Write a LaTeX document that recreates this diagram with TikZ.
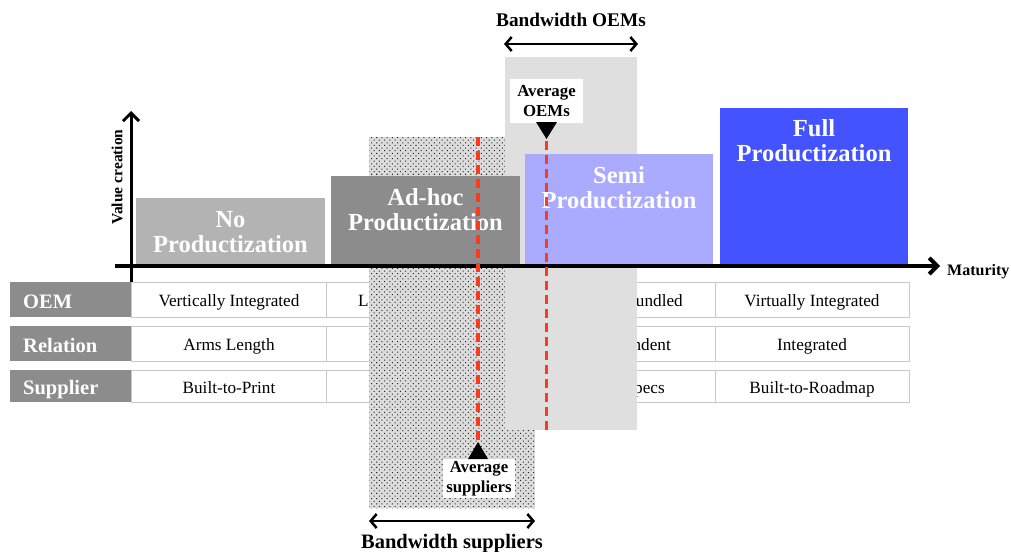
\documentclass[tikz,border=0pt]{standalone}
\usepackage{fontspec}
\setmainfont{Liberation Serif}
\usetikzlibrary{arrows.meta,patterns.meta}

\definecolor{nogrey}{HTML}{B3B3B3}
\definecolor{adhocgrey}{HTML}{8C8C8C}
\definecolor{semiblue}{HTML}{AAAAFF}
\definecolor{fullblue}{HTML}{4353FF}
\definecolor{labelgrey}{HTML}{8C8C8C}
\definecolor{bandgrey}{HTML}{DFDFDF}
\definecolor{dotgrey}{HTML}{DCDCDC}
\definecolor{avgred}{HTML}{FF3A1C}
\definecolor{cellline}{HTML}{C8C8C8}

\begin{document}
\begin{tikzpicture}[x=1pt,y=-1pt,
  stagebox/.style={rectangle,inner sep=0pt,outer sep=0pt,anchor=north west},
  stagetitle/.style={anchor=base,inner sep=0pt,align=center,text=white,
    font=\fontsize{24.5}{25}\selectfont\bfseries},
  cellbox/.style={rectangle,draw=cellline,line width=1.4pt,fill=white,
    inner sep=0pt,anchor=north west,minimum width=194.5pt},
  labelbox/.style={rectangle,fill=labelgrey,inner sep=0pt,anchor=north west,
    minimum width=121pt},
  celltext/.style={inner sep=0pt,font=\fontsize{17.2}{19}\selectfont},
  labeltext/.style={inner sep=0pt,anchor=base west,text=white,
    font=\fontsize{20.5}{22}\selectfont\bfseries},
  axisline/.style={line width=#1,-{Straight Barb[length=8pt,width=16pt]}},
  bwarrow/.style={line width=2.5pt,
    {Straight Barb[length=6pt,width=14pt]}-{Straight Barb[length=6pt,width=14pt]}},
  bwtext/.style={inner sep=0pt,anchor=base,font=\bfseries},
  avgdash/.style={avgred,line width=3.2pt,dash pattern=on 9pt off 5pt},
  avgbox/.style={rectangle,fill=white,inner sep=0pt,align=center,
    font=\fontsize{16.8}{19.5}\selectfont\bfseries},
  axistext/.style={inner sep=0pt,font=\bfseries}
]
\useasboundingbox (0,0) rectangle (1011,551);

% ---- relationship table ----
\foreach \name/\top/\ht in {oem/282/35, rel/326/35, sup/370/32}{
  \node[labelbox,minimum height=\ht pt] (lab-\name) at (10,\top) {};
  \foreach \col/\x in {1/131,2/325.5,3/520,4/714.5}{
    \node[cellbox,minimum height=\ht pt] (cell-\name-\col) at (\x,\top) {};
  }
}
\node[labeltext] (tOEM) at (23,308) {OEM};
\node[labeltext] (tRel) at (23,352) {Relation};
\node[labeltext] (tSup) at (23,394) {Supplier};

\node[celltext,anchor=base] (t11) at (229,306) {Vertically Integrated};
\node[celltext,anchor=base] (t21) at (229,350) {Arms Length};
\node[celltext,anchor=base] (t31) at (229,393) {Built-to-Print};
\node[celltext,anchor=base west] (t12) at (358,306) {Li};
\node[celltext,anchor=base east] (t13) at (683,306) {undled};
\node[celltext,anchor=base east] (t23) at (671,350) {ndent};
\node[celltext,anchor=base east] (t33) at (665,393) {pecs};
\node[celltext,anchor=base] (t14) at (812,306) {Virtually Integrated};
\node[celltext,anchor=base] (t24) at (812,350) {Integrated};
\node[celltext,anchor=base] (t34) at (812,393) {Built-to-Roadmap};

% ---- supplier bandwidth (dotted) and OEM bandwidth (grey) ----
\node[stagebox,minimum width=166pt,minimum height=371pt,
  preaction={fill=dotgrey},
  pattern={Dots[distance=3.7pt,angle=45,radius=0.72pt]},pattern color=black!85]
  (supband) at (369,137) {};
\node[stagebox,fill=bandgrey,minimum width=132pt,minimum height=373pt]
  (oemband) at (505,57) {};

% ---- productization stages ----
\node[stagebox,fill=nogrey,minimum width=189pt,minimum height=67pt] (nobox) at (136,198) {};
\node[stagebox,fill=adhocgrey,minimum width=189pt,minimum height=89pt] (adhocbox) at (331,176) {};
\node[stagebox,fill=semiblue,minimum width=188pt,minimum height=111pt] (semibox) at (525,154) {};
\node[stagebox,fill=fullblue,minimum width=188pt,minimum height=157pt] (fullbox) at (720,108) {};

% the base anchor of a two-line title sits on its second line
\node[stagetitle] (notitle) at ([yshift=-54pt]nobox.north) {No\\Productization};
\node[stagetitle] (adhoctitle) at ([yshift=-54pt]adhocbox.north) {Ad-hoc\\Productization};
\node[stagetitle] (semititle) at ([yshift=-54pt]semibox.north) {Semi\\Productization};
\node[stagetitle] (fulltitle) at ([yshift=-53pt]fullbox.north) {Full\\Productization};

% ---- axes ----
\coordinate (xstart) at (115,266);
\coordinate (xend) at (940,266);
\coordinate (ystart) at (131,282);
\coordinate (yend) at (131,111);
\draw[axisline=4pt] (xstart) -- (xend);
\draw[axisline=3pt] (ystart) -- (yend);
\node[axistext,font=\fontsize{16}{19}\selectfont\bfseries,anchor=base west] (maturity) at (947,275) {Maturity};
\node[axistext,font=\fontsize{15.5}{18}\selectfont\bfseries,rotate=90] (valuecreation) at (117,177) {Value creation};

% ---- averages ----
\coordinate (oemtip) at (546.5,139);
\coordinate (oemlineend) at (546.5,430);
\coordinate (suptip) at (478,442);
\coordinate (suplinestart) at (478,137);
\draw[avgdash] ([yshift=-2pt]oemtip) -- (oemlineend);
\draw[avgdash] (suplinestart) -- ([yshift=-2pt]suptip);

\node[avgbox,minimum width=73pt,minimum height=44pt] (avgoem) at (546.5,101) {Average\\OEMs};
\fill (oemtip) -- ++(-10.5,-17) -- ++(21,0) -- cycle;
\node[avgbox,minimum width=72pt,minimum height=39pt] (avgsup) at (479,478.5) {Average\\suppliers};
\fill (suptip) -- ++(-10,17) -- ++(20,0) -- cycle;

% ---- bandwidth markers ----
\coordinate (bwoemL) at (504,44);
\coordinate (bwoemR) at (638,44);
\draw[bwarrow] (bwoemL) -- (bwoemR);
\node[bwtext,font=\fontsize{19.3}{22}\selectfont\bfseries] (bwoemtext) at (571,27) {Bandwidth OEMs};

\coordinate (bwsupL) at (369,521);
\coordinate (bwsupR) at (535,521);
\draw[bwarrow] (bwsupL) -- (bwsupR);
\node[bwtext,font=\fontsize{20.5}{22}\selectfont\bfseries] (bwsuptext) at (452,548) {Bandwidth suppliers};
\end{tikzpicture}
\end{document}
